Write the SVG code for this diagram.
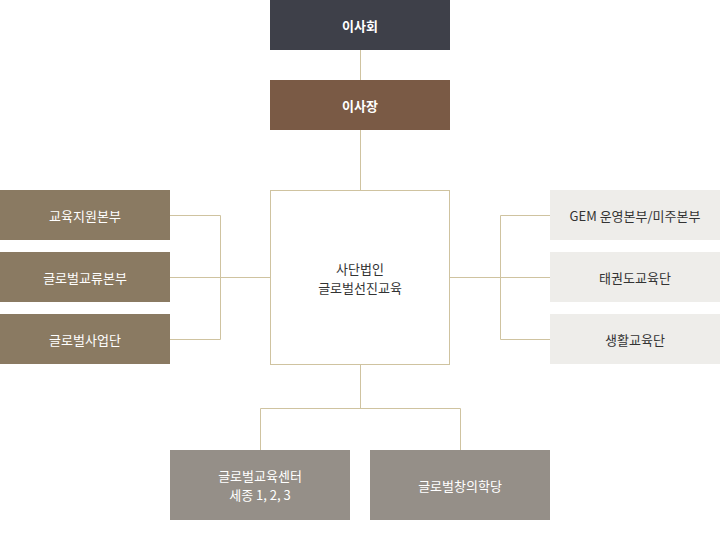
<svg xmlns="http://www.w3.org/2000/svg" width="720" height="550" viewBox="0 0 720 550">
<style>
text{font-family:"Noto Sans CJK KR","Noto Sans",sans-serif;font-size:13px;text-anchor:middle;dominant-baseline:central}
.w{fill:#fff}.d{fill:#333}.b{font-weight:bold}
.ln{stroke:#cfc3a0;stroke-width:1;fill:none}
</style>
<rect width="720" height="550" fill="#fff"/>
<g id="connectors">
<path class="ln" d="M360.5 50V80M360.5 130V190M170 215.5H220.5V339.5H170M170 277.5H270M550 215.5H500.5V339.5H550M450 277.5H550M360.5 365V408.5M260.5 450V408.5H460.5V450"/>
</g>
<g id="n1"><rect x="270" y="0" width="180" height="50" fill="#3e4049"/><text class="w b" x="360" y="25">이사회</text></g>
<g id="n2"><rect x="270" y="80" width="180" height="50" fill="#7a5a45"/><text class="w b" x="360" y="105">이사장</text></g>
<g id="n3"><rect x="270.5" y="190.5" width="179" height="174" fill="#fff" stroke="#cfc3a0"/><text class="d" x="360" y="268">사단법인</text><text class="d" x="360" y="287">글로벌선진교육</text></g>
<g id="l1"><rect x="0" y="190" width="170" height="50" fill="#8a7a62"/><text class="w" x="85" y="215">교육지원본부</text></g>
<g id="l2"><rect x="0" y="252" width="170" height="50" fill="#8a7a62"/><text class="w" x="85" y="277">글로벌교류본부</text></g>
<g id="l3"><rect x="0" y="314" width="170" height="50" fill="#8a7a62"/><text class="w" x="85" y="339">글로벌사업단</text></g>
<g id="r1"><rect x="550" y="190" width="170" height="50" fill="#eeedea"/><text class="d" x="635" y="215">GEM 운영본부/미주본부</text></g>
<g id="r2"><rect x="550" y="252" width="170" height="50" fill="#eeedea"/><text class="d" x="635" y="277">태권도교육단</text></g>
<g id="r3"><rect x="550" y="314" width="170" height="50" fill="#eeedea"/><text class="d" x="635" y="339">생활교육단</text></g>
<g id="b1"><rect x="170" y="450" width="180" height="70" fill="#958f88"/><text class="w" x="260" y="475">글로벌교육센터</text><text class="w" x="260" y="494">세종 1, 2, 3</text></g>
<g id="b2"><rect x="370" y="450" width="180" height="70" fill="#958f88"/><text class="w" x="460" y="485">글로벌창의학당</text></g>
</svg>
